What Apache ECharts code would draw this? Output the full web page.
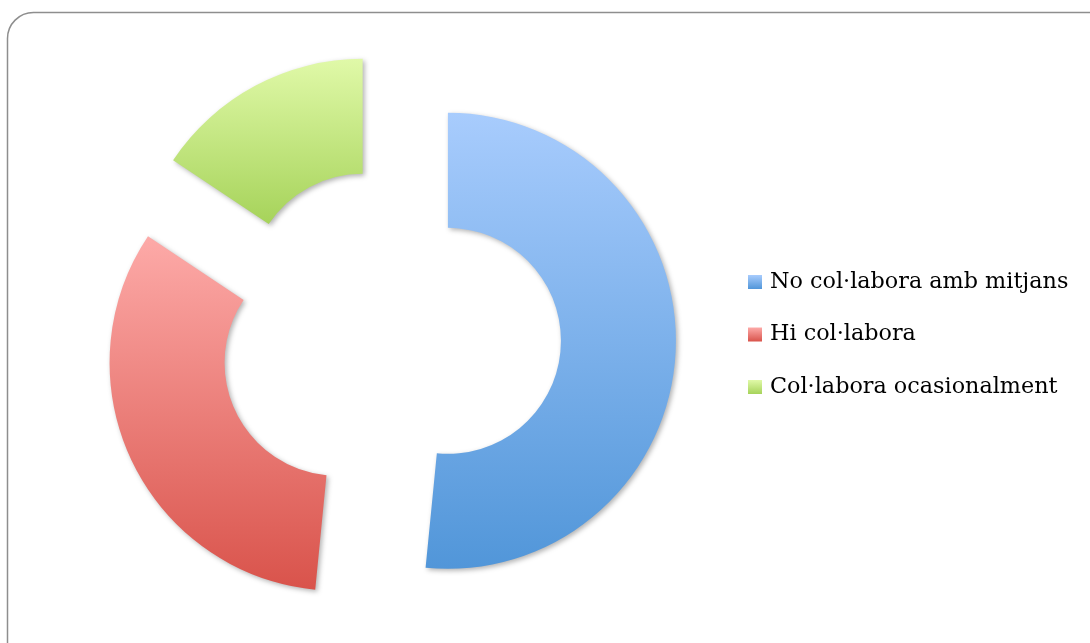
<!DOCTYPE html>
<html>
<head>
<meta charset="utf-8">
<script src="https://cdn.jsdelivr.net/npm/echarts@6/dist/echarts.min.js"></script>
<style>
  html, body { margin: 0; padding: 0; background: #ffffff; }
  #chart { width: 1090px; height: 643px; }
</style>
</head>
<body>
<div id="chart"></div>
<script>
// Survey answers: collaboration with media
const categories = ['No col·labora amb mitjans', 'Hi col·labora', 'Col·labora ocasionalment'];
const values = [33, 21, 10];
const topColors = ['#a8ccfd', '#fdaaa8', '#e0f9a8'];
const bottomColors = ['#5196d9', '#d9534b', '#a6d35a'];

function vGrad(top, bottom) {
  return new echarts.graphic.LinearGradient(0, 0, 0, 1, [
    { offset: 0, color: top },
    { offset: 1, color: bottom }
  ]);
}

const pieData = categories.map((name, i) => ({
  name: name,
  value: values[i],
  selected: true,
  itemStyle: { color: vGrad(topColors[i], bottomColors[i]) }
}));

const chart = echarts.init(document.getElementById('chart'), null, { renderer: 'canvas' });
chart.setOption({
  animation: false,
  graphic: [{
    type: 'rect',
    shape: { x: 7.5, y: 12.5, width: 1110, height: 660, r: 26 },
    style: { fill: 'none', stroke: '#8e8e8e', lineWidth: 1.5 },
    z: 0
  }],
  legend: {
    orient: 'vertical',
    left: 748,
    top: 269,
    padding: 0,
    itemWidth: 14,
    itemHeight: 14,
    itemGap: 26.5,
    icon: 'rect',
    selectedMode: false,
    textStyle: { fontFamily: 'DejaVu Serif', fontSize: 22.3, lineHeight: 26, color: '#000000', padding: [0, 0, 0, 3] },
    data: categories
  },
  series: [{
    type: 'pie',
    center: [390, 338],
    radius: [113, 228],
    startAngle: 90,
    clockwise: true,
    selectedMode: 'multiple',
    selectedOffset: 58,
    avoidLabelOverlap: false,
    label: { show: false },
    labelLine: { show: false },
    emphasis: { disabled: true },
    itemStyle: {
      borderWidth: 0,
      shadowBlur: 5,
      shadowOffsetX: 2,
      shadowOffsetY: 2,
      shadowColor: 'rgba(0,0,0,0.3)'
    },
    data: pieData
  }]
});
</script>
</body>
</html>
